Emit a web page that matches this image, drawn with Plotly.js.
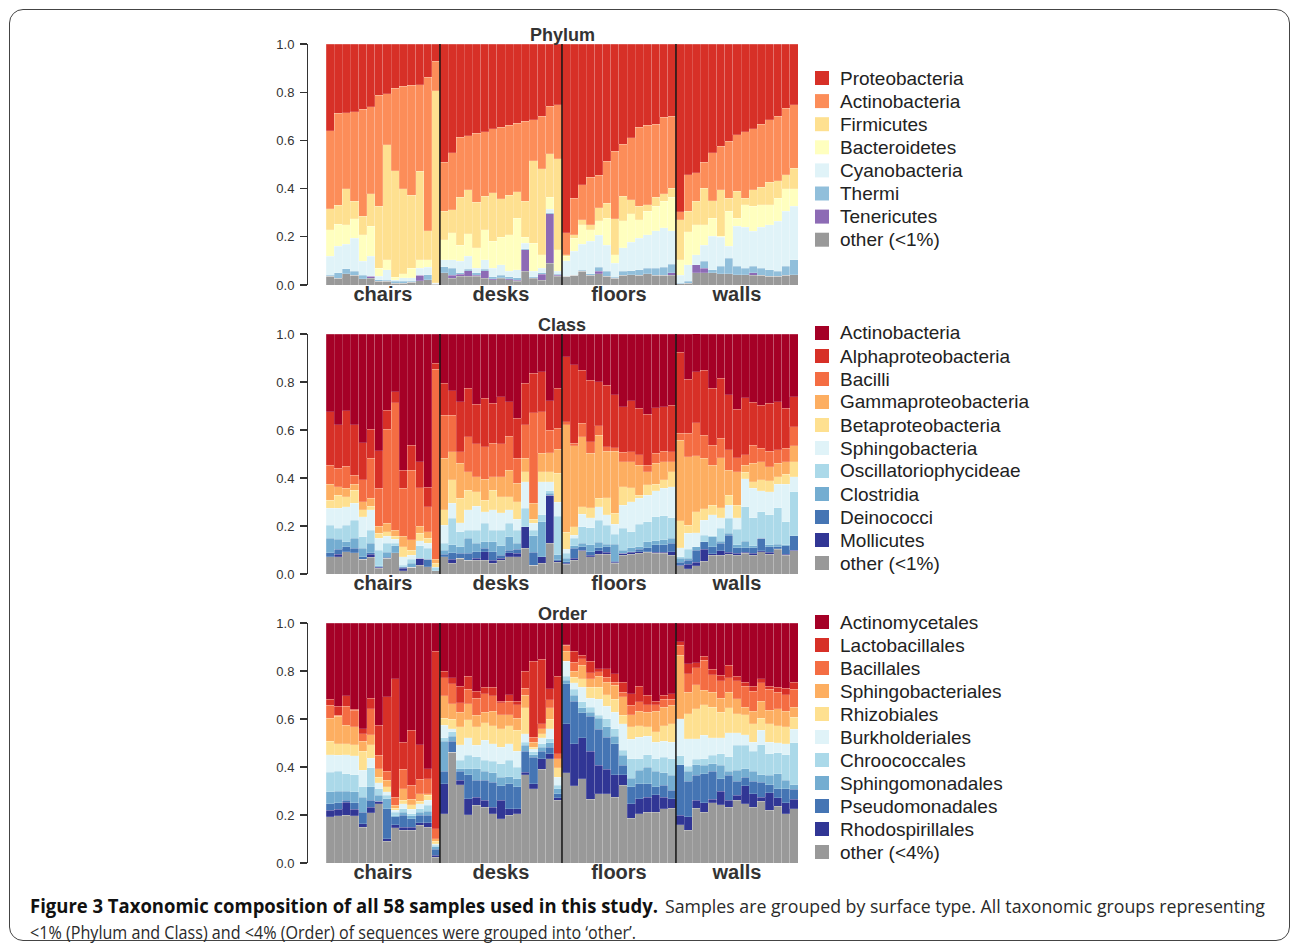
<!DOCTYPE html>
<html>
<head>
<meta charset="utf-8">
<script src="https://cdn.plot.ly/plotly-3.0.1.min.js"></script>
<style>
  html, body { margin:0; padding:0; background:#fff; }
  #wrap { position:relative; width:1292px; height:949px; overflow:hidden; }
  #chart { position:absolute; left:0; top:0; width:1292px; height:949px; }
  #frame { position:absolute; left:9px; top:9px; width:1279px; height:930px; border:1.5px solid #444; border-radius:14px; pointer-events:none; }
  .cap { position:absolute; font-family:'Open Sans','Noto Sans',sans-serif; font-size:19px; line-height:26px;
         color:#2a2a2a; white-space:nowrap; transform-origin:0 0; }
  .cap.bold { font-weight:700; color:#111; }
</style>
</head>
<body>
<div id="wrap">
  <div id="chart"></div>
  <div id="frame"></div>
  <div id="cap1b" class="cap bold" style="left:30px; top:893px;">Figure 3 Taxonomic composition of all 58 samples used in this study.</div>
  <div id="cap1r" class="cap" style="left:665px; top:893px;">Samples are grouped by surface type. All taxonomic groups representing</div>
  <div id="cap2" class="cap" style="left:30px; top:919px;">&lt;1% (Phylum and Class) and &lt;4% (Order) of sequences were grouped into ‘other’.</div>
</div>
<script>
// ---------------- data ----------------
const groups = ['chairs', 'desks', 'floors', 'walls'];
const groupSizes = [14, 15, 14, 15];

// Each array: cumulative top of that layer (stacked from the bottom), samples in order chairs | desks | floors | walls.
// ---- Phylum ----
const phylum_other_top = [
  0.036,0.029,0.046,0.04,0.026,0.029,0.015,0.015,0.008,0.008,0.011,0.018,0.022,0.004,
  0.05,0.029,0.036,0.036,0.036,0.029,0.022,0.029,0.022,0.015,0.057,0.029,0.02,0.091,0.036,
  0.036,0.04,0.057,0.04,0.046,0.036,0.029,0.04,0.043,0.04,0.046,0.04,0.04,0.04,
  0.006,0.008,0.05,0.05,0.05,0.046,0.046,0.043,0.043,0.04,0.04,0.036,0.036,0.04,0.043];
const phylum_tenericutes_top = [
  0.036,0.029,0.046,0.04,0.026,0.036,0.015,0.015,0.008,0.008,0.011,0.04,0.022,0.004,
  0.05,0.04,0.045,0.06,0.04,0.06,0.025,0.03,0.025,0.02,0.147,0.03,0.045,0.295,0.04,
  0.036,0.04,0.057,0.04,0.057,0.036,0.029,0.04,0.043,0.04,0.046,0.04,0.04,0.05,
  0.006,0.008,0.084,0.07,0.05,0.046,0.046,0.043,0.043,0.05,0.04,0.036,0.036,0.04,0.043];
const phylum_thermi_top = [
  0.04,0.05,0.068,0.057,0.04,0.036,0.022,0.02,0.015,0.015,0.015,0.04,0.043,0.006,
  0.075,0.07,0.05,0.065,0.05,0.065,0.035,0.04,0.035,0.03,0.15,0.035,0.05,0.3,0.045,
  0.036,0.04,0.062,0.046,0.073,0.057,0.032,0.057,0.06,0.064,0.07,0.07,0.073,0.087,
  0.008,0.015,0.084,0.098,0.064,0.078,0.112,0.078,0.07,0.078,0.07,0.064,0.057,0.078,0.105];
const phylum_cyanobacteria_top = [
  0.119,0.16,0.17,0.195,0.098,0.119,0.036,0.064,0.022,0.03,0.03,0.07,0.073,0.008,
  0.105,0.105,0.098,0.119,0.07,0.105,0.07,0.084,0.057,0.064,0.174,0.057,0.07,0.315,0.057,
  0.10,0.14,0.17,0.181,0.206,0.165,0.091,0.154,0.178,0.195,0.209,0.225,0.237,0.225,
  0.04,0.084,0.126,0.165,0.202,0.198,0.16,0.243,0.239,0.223,0.239,0.25,0.264,0.306,0.326];
const phylum_bacteroidetes_top = [
  0.23,0.253,0.25,0.275,0.209,0.243,0.07,0.105,0.032,0.046,0.07,0.105,0.105,0.01,
  0.188,0.216,0.165,0.212,0.154,0.23,0.181,0.198,0.209,0.278,0.198,0.174,0.126,0.364,0.147,
  0.119,0.195,0.25,0.23,0.267,0.278,0.126,0.267,0.295,0.271,0.306,0.326,0.347,0.364,
  0.105,0.22,0.25,0.25,0.278,0.202,0.306,0.278,0.333,0.326,0.333,0.333,0.361,0.40,0.40];
const phylum_firmicutes_top = [
  0.317,0.33,0.40,0.347,0.285,0.378,0.326,0.582,0.474,0.40,0.372,0.472,0.225,0.806,
  0.306,0.313,0.364,0.396,0.344,0.368,0.382,0.357,0.372,0.386,0.347,0.516,0.483,0.544,0.524,
  0.126,0.209,0.271,0.25,0.32,0.34,0.275,0.368,0.354,0.326,0.333,0.364,0.378,0.402,
  0.271,0.306,0.347,0.402,0.35,0.396,0.361,0.389,0.361,0.396,0.405,0.427,0.433,0.458,0.485];
const phylum_actinobacteria_top = [
  0.64,0.712,0.715,0.718,0.73,0.739,0.787,0.793,0.817,0.824,0.828,0.831,0.862,0.928,
  0.51,0.548,0.613,0.62,0.63,0.635,0.649,0.654,0.663,0.672,0.679,0.686,0.70,0.741,0.748,
  0.216,0.361,0.416,0.447,0.455,0.513,0.555,0.585,0.61,0.654,0.663,0.668,0.696,0.70,
  0.303,0.458,0.465,0.51,0.548,0.575,0.596,0.624,0.635,0.649,0.668,0.686,0.70,0.734,0.748];
const total_top = [
  1,1,1,1,1,1,1,1,1,1,1,1,1,1, 1,1,1,1,1,1,1,1,1,1,1,1,1,1,1,
  1,1,1,1,1,1,1,1,1,1,1,1,1,1, 1,1,1,1,1,1,1,1,1,1,1,1,1,1,1];

// ---- Class ----
const class_other_top = [
  0.072,0.072,0.093,0.089,0.061,0.069,0.025,0.065,0.089,0.014,0.028,0.0375,0.03,0.014,
  0.072,0.044,0.065,0.058,0.058,0.058,0.044,0.058,0.072,0.072,0.107,0.0375,0.044,0.128,0.05,
  0.04,0.058,0.096,0.072,0.082,0.082,0.044,0.079,0.082,0.086,0.09,0.086,0.086,0.079,
  0.035,0.021,0.035,0.054,0.079,0.079,0.082,0.079,0.086,0.079,0.093,0.082,0.104,0.079,0.096];
const class_mollicutes_top = [
  0.072,0.083,0.093,0.089,0.061,0.083,0.028,0.065,0.089,0.025,0.028,0.065,0.031,0.014,
  0.072,0.061,0.065,0.058,0.065,0.093,0.058,0.065,0.089,0.086,0.197,0.0375,0.072,0.329,0.055,
  0.044,0.065,0.10,0.079,0.096,0.09,0.049,0.086,0.09,0.093,0.093,0.09,0.09,0.093,
  0.0375,0.04,0.05,0.104,0.085,0.096,0.09,0.086,0.09,0.086,0.096,0.09,0.106,0.082,0.1];
const class_deinococci_top = [
  0.089,0.103,0.114,0.107,0.072,0.089,0.03,0.07,0.089,0.028,0.028,0.065,0.061,0.014,
  0.083,0.089,0.086,0.086,0.093,0.107,0.093,0.079,0.1,0.103,0.197,0.09,0.072,0.329,0.06,
  0.051,0.107,0.114,0.093,0.11,0.114,0.054,0.086,0.093,0.104,0.11,0.121,0.121,0.128,
  0.049,0.058,0.10,0.135,0.114,0.128,0.1625,0.11,0.11,0.11,0.149,0.114,0.114,0.118,0.16];
const class_clostridia_top = [
  0.149,0.144,0.135,0.149,0.107,0.128,0.035,0.09,0.117,0.03,0.044,0.065,0.061,0.014,
  0.1,0.121,0.114,0.149,0.128,0.135,0.135,0.117,0.156,0.128,0.197,0.16,0.218,0.336,0.08,
  0.065,0.118,0.128,0.121,0.132,0.124,0.124,0.1,0.11,0.114,0.135,0.138,0.142,0.149,
  0.065,0.065,0.114,0.135,0.156,0.1375,0.169,0.121,0.1375,0.118,0.149,0.121,0.124,0.121,0.16];
const class_oscillatoriophycideae_top = [
  0.204,0.19,0.204,0.225,0.156,0.183,0.1,0.128,0.128,0.0375,0.061,0.117,0.107,0.028,
  0.128,0.232,0.176,0.183,0.183,0.211,0.183,0.183,0.211,0.183,0.274,0.183,0.246,0.347,0.24,
  0.086,0.149,0.197,0.193,0.225,0.204,0.165,0.19,0.176,0.207,0.218,0.239,0.243,0.235,
  0.072,0.104,0.104,0.1625,0.16,0.19,0.232,0.1875,0.281,0.235,0.26,0.246,0.276,0.218,0.343];
const class_sphingobacteria_top = [
  0.274,0.274,0.28,0.294,0.239,0.267,0.15,0.158,0.144,0.072,0.079,0.139,0.128,0.028,
  0.204,0.294,0.214,0.267,0.283,0.26,0.267,0.256,0.267,0.228,0.385,0.211,0.385,0.385,0.30,
  0.104,0.1625,0.249,0.235,0.281,0.246,0.207,0.2875,0.301,0.315,0.329,0.346,0.357,0.364,
  0.11,0.169,0.1625,0.225,0.246,0.235,0.2875,0.235,0.396,0.357,0.346,0.343,0.374,0.374,0.406];
const class_betaproteobacteria_top = [
  0.308,0.329,0.322,0.35,0.267,0.283,0.169,0.176,0.158,0.114,0.1,0.169,0.149,0.044,
  0.267,0.392,0.315,0.35,0.343,0.308,0.35,0.322,0.322,0.301,0.426,0.228,0.426,0.426,0.42,
  0.174,0.197,0.281,0.276,0.315,0.318,0.253,0.364,0.36,0.329,0.371,0.374,0.392,0.426,
  0.221,0.204,0.25,0.271,0.2875,0.276,0.329,0.2875,0.424,0.385,0.392,0.388,0.406,0.415,0.468];
const class_gammaproteobacteria_top = [
  0.375,0.364,0.357,0.375,0.301,0.315,0.2,0.211,0.183,0.158,0.142,0.2,0.176,0.061,
  0.482,0.51,0.461,0.426,0.406,0.394,0.406,0.406,0.433,0.378,0.482,0.294,0.503,0.506,0.52,
  0.621,0.535,0.572,0.503,0.579,0.5125,0.5125,0.468,0.468,0.454,0.426,0.461,0.468,0.468,
  0.558,0.489,0.482,0.482,0.454,0.485,0.433,0.426,0.454,0.461,0.468,0.447,0.461,0.468,0.535];
const class_bacilli_top = [
  0.454,0.44,0.45,0.4125,0.392,0.482,0.357,0.603,0.714,0.357,0.433,0.36,0.28,0.853,
  0.6625,0.6625,0.51,0.572,0.542,0.531,0.544,0.542,0.575,0.482,0.621,0.672,0.676,0.6,0.607,
  0.635,0.544,0.628,0.551,0.618,0.531,0.526,0.507,0.51,0.496,0.454,0.503,0.5125,0.51,
  0.586,0.586,0.621,0.579,0.5375,0.565,0.517,0.485,0.496,0.5375,0.524,0.5125,0.517,0.524,0.614];
const class_alphaproteobacteria_top = [
  0.676,0.621,0.68,0.621,0.547,0.603,0.514,0.683,0.76,0.433,0.5375,0.468,0.361,0.878,
  0.794,0.764,0.718,0.774,0.708,0.732,0.711,0.739,0.718,0.649,0.794,0.836,0.843,0.722,0.774,
  0.906,0.871,0.85,0.808,0.801,0.7875,0.746,0.697,0.721,0.69,0.665,0.693,0.697,0.704,
  0.924,0.8125,0.832,0.85,0.774,0.815,0.746,0.6875,0.735,0.715,0.704,0.711,0.718,0.69,0.739];

// ---- Order ----
const order_other_top = [
  0.192,0.196,0.199,0.196,0.15,0.21,0.247,0.09,0.146,0.136,0.136,0.157,0.15,0.025,
  0.206,0.4625,0.326,0.201,0.24,0.233,0.206,0.185,0.199,0.206,0.368,0.31,0.39,0.435,0.261,
  0.376,0.321,0.351,0.265,0.289,0.289,0.275,0.324,0.1875,0.206,0.2125,0.2125,0.226,0.229,
  0.16,0.136,0.229,0.2125,0.251,0.243,0.233,0.261,0.247,0.233,0.257,0.219,0.2375,0.206,0.226];
const order_rhodospirillales_top = [
  0.219,0.224,0.254,0.224,0.164,0.233,0.257,0.101,0.16,0.15,0.15,0.168,0.168,0.032,
  0.331,0.4625,0.344,0.268,0.275,0.261,0.233,0.261,0.226,0.226,0.379,0.331,0.435,0.456,0.271,
  0.581,0.497,0.521,0.465,0.407,0.39,0.368,0.368,0.247,0.268,0.275,0.285,0.275,0.268,
  0.199,0.192,0.261,0.251,0.265,0.299,0.261,0.282,0.321,0.289,0.275,0.293,0.271,0.251,0.265];
const order_pseudomonadales_top = [
  0.247,0.251,0.261,0.251,0.2125,0.261,0.257,0.226,0.192,0.199,0.185,0.199,0.199,0.057,
  0.382,0.507,0.382,0.368,0.344,0.344,0.3375,0.321,0.33,0.317,0.465,0.44,0.465,0.483,0.289,
  0.747,0.674,0.626,0.6125,0.557,0.525,0.497,0.407,0.317,0.331,0.331,0.317,0.325,0.303,
  0.41,0.34,0.365,0.372,0.382,0.351,0.365,0.34,0.358,0.34,0.3375,0.326,0.31,0.31,0.307];
const order_sphingomonadales_top = [
  0.296,0.299,0.299,0.296,0.275,0.317,0.282,0.268,0.196,0.2125,0.196,0.2125,0.215,0.067,
  0.507,0.528,0.393,0.393,0.393,0.382,0.376,0.358,0.36,0.351,0.49,0.451,0.483,0.501,0.31,
  0.761,0.699,0.646,0.629,0.604,0.567,0.529,0.449,0.354,0.386,0.40,0.382,0.376,0.365,
  0.41,0.382,0.41,0.407,0.414,0.407,0.382,0.386,0.393,0.382,0.368,0.365,0.372,0.344,0.326];
const order_chroococcales_top = [
  0.379,0.382,0.372,0.368,0.317,0.396,0.31,0.282,0.2125,0.226,0.206,0.226,0.24,0.074,
  0.521,0.546,0.428,0.449,0.442,0.428,0.424,0.414,0.428,0.40,0.504,0.464,0.497,0.518,0.324,
  0.779,0.724,0.671,0.65,0.615,0.601,0.56,0.469,0.435,0.435,0.451,0.435,0.44,0.435,
  0.446,0.404,0.432,0.435,0.449,0.456,0.442,0.49,0.49,0.465,0.493,0.456,0.46,0.451,0.501];
const order_burkholderiales_top = [
  0.451,0.449,0.451,0.446,0.386,0.4375,0.335,0.296,0.219,0.247,0.224,0.247,0.261,0.081,
  0.574,0.56,0.493,0.521,0.49,0.511,0.497,0.483,0.497,0.465,0.539,0.476,0.521,0.56,0.358,
  0.84,0.751,0.733,0.6875,0.682,0.654,0.629,0.581,0.515,0.525,0.529,0.504,0.507,0.504,
  0.601,0.518,0.518,0.532,0.521,0.521,0.543,0.543,0.535,0.504,0.553,0.504,0.501,0.497,0.557];
const order_rhizobiales_top = [
  0.507,0.497,0.497,0.493,0.465,0.493,0.358,0.317,0.229,0.261,0.243,0.257,0.283,0.09,
  0.604,0.6,0.567,0.596,0.567,0.585,0.571,0.56,0.571,0.553,0.646,0.483,0.539,0.6,0.396,
  0.84,0.775,0.768,0.733,0.733,0.701,0.682,0.615,0.567,0.571,0.567,0.546,0.571,0.581,
  0.601,0.622,0.643,0.66,0.65,0.629,0.646,0.622,0.618,0.581,0.604,0.581,0.571,0.567,0.608];
const order_sphingobacteriales_top = [
  0.604,0.6125,0.574,0.567,0.507,0.535,0.393,0.344,0.24,0.31,0.265,0.289,0.289,0.101,
  0.696,0.664,0.629,0.664,0.615,0.629,0.632,0.618,0.618,0.604,0.699,0.504,0.56,0.646,0.435,
  0.882,0.799,0.824,0.768,0.779,0.754,0.74,0.692,0.618,0.632,0.629,0.632,0.65,0.657,
  0.865,0.7125,0.743,0.719,0.7125,0.6875,0.7125,0.685,0.65,0.632,0.674,0.636,0.643,0.632,0.65];
const order_bacillales_top = [
  0.657,0.615,0.654,0.636,0.539,0.643,0.449,0.382,0.275,0.39,0.324,0.349,0.351,0.143,
  0.771,0.747,0.668,0.724,0.6875,0.706,0.696,0.668,0.674,0.66,0.729,0.525,0.581,0.68,0.456,
  0.907,0.8375,0.851,0.793,0.796,0.775,0.754,0.7125,0.657,0.671,0.66,0.66,0.682,0.682,
  0.907,0.789,0.813,0.844,0.785,0.76,0.771,0.76,0.7375,0.715,0.751,0.724,0.7125,0.701,0.724];
const order_lactobacillales_top = [
  0.682,0.654,0.696,0.640,0.56,0.6875,0.574,0.692,0.768,0.504,0.553,0.493,0.393,0.882,
  0.799,0.771,0.7375,0.779,0.715,0.733,0.733,0.674,0.701,0.674,0.799,0.84,0.849,0.726,0.779,
  0.91,0.882,0.865,0.84,0.81,0.81,0.789,0.754,0.706,0.7375,0.699,0.674,0.699,0.706,
  0.921,0.831,0.835,0.8625,0.807,0.782,0.824,0.779,0.754,0.7375,0.768,0.737,0.733,0.729,0.754];

// Legend names (top to bottom) and colours
const phylumNames = ['Proteobacteria','Actinobacteria','Firmicutes','Bacteroidetes','Cyanobacteria','Thermi','Tenericutes','other (<1%)'];
const classNames = ['Actinobacteria','Alphaproteobacteria','Bacilli','Gammaproteobacteria','Betaproteobacteria','Sphingobacteria','Oscillatoriophycideae','Clostridia','Deinococci','Mollicutes','other (<1%)'];
const orderNames = ['Actinomycetales','Lactobacillales','Bacillales','Sphingobacteriales','Rhizobiales','Burkholderiales','Chroococcales','Sphingomonadales','Pseudomonadales','Rhodospirillales','other (<4%)'];
const panelTitles = ['Phylum','Class','Order'];

const phylumColors = ['#d73027','#fc8d59','#fee090','#ffffbf','#e0f3f8','#91bfdb','#8d6bb5','#999999'];
const rdylbuColors = ['#a50026','#d73027','#f46d43','#fdae61','#fee090','#e0f3f8','#abd9e9','#74add1','#4575b4','#313695','#999999'];

// tops listed top-to-bottom in legend order
const phylumTops = [total_top, phylum_actinobacteria_top, phylum_firmicutes_top, phylum_bacteroidetes_top,
  phylum_cyanobacteria_top, phylum_thermi_top, phylum_tenericutes_top, phylum_other_top];
const classTops = [total_top, class_alphaproteobacteria_top, class_bacilli_top, class_gammaproteobacteria_top,
  class_betaproteobacteria_top, class_sphingobacteria_top, class_oscillatoriophycideae_top, class_clostridia_top,
  class_deinococci_top, class_mollicutes_top, class_other_top];
const orderTops = [total_top, order_lactobacillales_top, order_bacillales_top, order_sphingobacteriales_top,
  order_rhizobiales_top, order_burkholderiales_top, order_chroococcales_top, order_sphingomonadales_top,
  order_pseudomonadales_top, order_rhodospirillales_top, order_other_top];

// ---------------- build ----------------
const W = 1292, H = 949;
const nSamples = groupSizes.reduce((a, b) => a + b, 0);
const xs = Array.from({length: nSamples}, (_, i) => i);
const groupCenters = [], groupBounds = [];
let acc = 0;
groupSizes.forEach((s, i) => {
  groupCenters.push(acc + (s - 1) / 2);
  acc += s;
  if (i < groupSizes.length - 1) groupBounds.push(acc - 0.5);
});

const panels = [
  {names: phylumNames, colors: phylumColors, tops: phylumTops, top: 44, bottom: 285, legendFirst: 78, legendStep: 23.1},
  {names: classNames, colors: rdylbuColors, tops: classTops, top: 334, bottom: 574, legendFirst: 333, legendStep: 23.0},
  {names: orderNames, colors: rdylbuColors, tops: orderTops, top: 623, bottom: 863, legendFirst: 622, legendStep: 23.0}
];

const traces = [];
const layout = {
  width: W, height: H,
  margin: {l: 0, r: 0, t: 0, b: 0},
  paper_bgcolor: '#ffffff', plot_bgcolor: '#ffffff',
  barmode: 'stack', bargap: 0,
  showlegend: false,
  font: {family: 'Liberation Sans, Arial, sans-serif', color: '#222'},
  shapes: [], annotations: []
};

const xDomain = [326 / W, 798 / W];
const yAxisPos = 307 / W;

panels.forEach((p, pi) => {
  const sfx = pi === 0 ? '' : String(pi + 1);
  const xa = 'x' + sfx, ya = 'y' + sfx;
  const n = p.names.length;
  for (let k = n - 1; k >= 0; k--) {
    const top = p.tops[k];
    const below = k < n - 1 ? p.tops[k + 1] : null;
    const vals = top.map((v, j) => Math.max(0, v - (below ? below[j] : 0)));
    traces.push({
      type: 'bar', x: xs, y: vals, name: p.names[k],
      xaxis: xa, yaxis: ya,
      marker: {color: p.colors[k], line: {width: 0.5, color: 'rgba(255,255,255,0.35)'}},
      hoverinfo: 'name+y'
    });
  }
  const dom = [1 - p.bottom / H, 1 - p.top / H];
  layout['xaxis' + sfx] = {
    domain: xDomain, anchor: ya, range: [-0.5, nSamples - 0.5],
    tickmode: 'array', tickvals: groupCenters, ticktext: groups,
    ticks: '', showline: false, showgrid: false, zeroline: false,
    tickfont: {size: 20, color: '#333', family: 'Liberation Sans, Arial, sans-serif', weight: 'bold'},
    ticklabelstandoff: -5, fixedrange: true
  };
  layout['yaxis' + sfx] = {
    domain: dom, anchor: 'free', position: yAxisPos, range: [0, 1],
    tickmode: 'array', tickvals: [0, 0.2, 0.4, 0.6, 0.8, 1.0], ticktext: ['0.0', '0.2', '0.4', '0.6', '0.8', '1.0'],
    ticks: 'outside', ticklen: 7, tickwidth: 1.3, tickcolor: '#333',
    showline: true, linecolor: '#333', linewidth: 1.3,
    showgrid: false, zeroline: false, ticklabelstandoff: 3,
    tickfont: {size: 13, color: '#333'}, fixedrange: true
  };
  groupBounds.forEach(b => {
    layout.shapes.push({type: 'line', xref: xa, yref: ya, x0: b, x1: b, y0: 0, y1: 1,
      line: {color: '#111', width: 1.5}});
  });
  layout.annotations.push({
    text: '<b>' + panelTitles[pi] + '</b>', xref: 'paper', yref: 'paper',
    x: 562 / W, y: 1 - (p.top - 9) / H, xanchor: 'center', yanchor: 'middle',
    showarrow: false, font: {size: 18, color: '#333'}
  });
  // legend (drawn as keys + labels)
  p.names.forEach((nm, i) => {
    const cy = p.legendFirst + i * p.legendStep;
    layout.shapes.push({type: 'rect', xref: 'paper', yref: 'paper',
      x0: 815 / W, x1: 829 / W, y0: 1 - (cy + 7) / H, y1: 1 - (cy - 7) / H,
      fillcolor: p.colors[i], line: {width: 0}});
    layout.annotations.push({text: nm.replace(/</g, '&lt;'), xref: 'paper', yref: 'paper',
      x: 838 / W, y: 1 - cy / H, xanchor: 'left', yanchor: 'middle', showarrow: false,
      font: {size: 19, color: '#222', family: 'Liberation Sans, Arial, sans-serif'}});
  });
});

Plotly.newPlot('chart', traces, layout, {staticPlot: true, displayModeBar: false});

// fit each caption piece to the width it spans in the figure
const capTargets = {cap1b: 628, cap1r: 600, cap2: 606};
function fitCaption() {
  Object.keys(capTargets).forEach(id => {
    const el = document.getElementById(id);
    el.style.transform = 'none';
    const w = el.getBoundingClientRect().width;
    if (w > 0) el.style.transform = 'scaleX(' + (capTargets[id] / w) + ')';
  });
}
fitCaption();
if (document.fonts && document.fonts.ready) document.fonts.ready.then(fitCaption);
</script>
</body>
</html>
